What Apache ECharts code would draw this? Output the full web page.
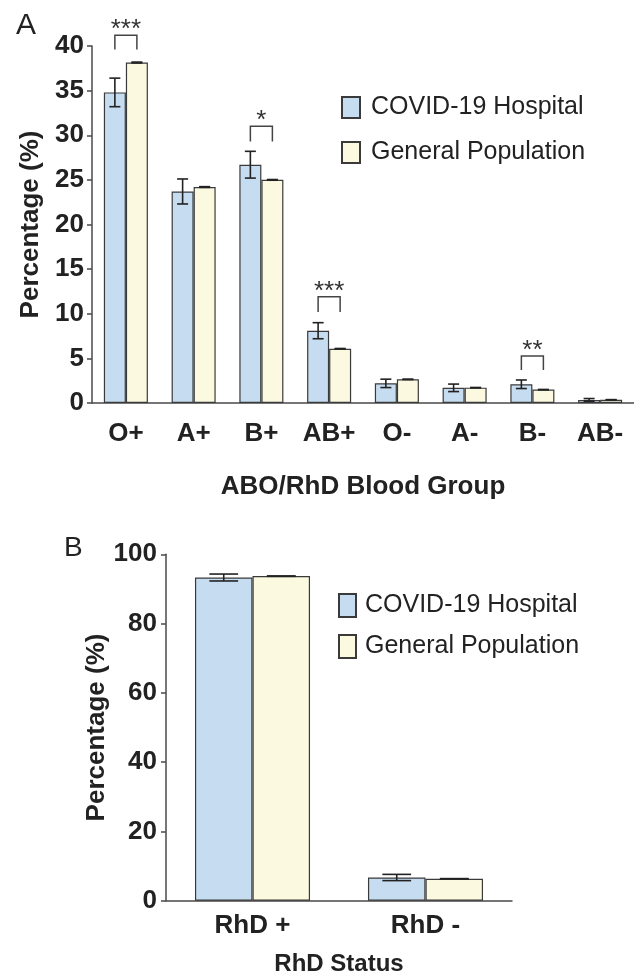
<!DOCTYPE html>
<html>
<head>
<meta charset="utf-8">
<script src="https://cdn.jsdelivr.net/npm/echarts@6/dist/echarts.min.js"></script>
<style>
html,body{margin:0;padding:0;background:#fff;}
#chart{width:634px;height:975px;}
</style>
</head>
<body>
<div id="chart"></div>
<script>
// ---- Panel A data ----
const categoriesA = ['O+', 'A+', 'B+', 'AB+', 'O-', 'A-', 'B-', 'AB-'];
const hospitalA = [34.8, 23.7, 26.7, 8.1, 2.2, 1.7, 2.1, 0.35];
const hospitalErrA = [1.6, 1.4, 1.5, 0.9, 0.47, 0.42, 0.48, 0.15];
const generalA = [38.15, 24.2, 25.0, 6.08, 2.65, 1.72, 1.5, 0.37];
const generalErrA = [0.05, 0.04, 0.04, 0.03, 0.02, 0.02, 0.02, 0.01];
const sigIndexA = [0, 2, 3, 6];
const sigLabelA = ['***', '*', '***', '**'];
const sigTopA = [41.2, 31.0, 11.9, 5.26];
const sigBottomA = [39.6, 29.3, 10.2, 3.7];

// ---- Panel B data ----
const categoriesB = ['RhD +', 'RhD -'];
const hospitalB = [93.3, 6.7];
const hospitalErrB = [1.0, 0.9];
const generalB = [93.7, 6.35];
const generalErrB = [0.05, 0.03];

const seriesNames = ['COVID-19 Hospital', 'General Population'];
const FONT = '"Liberation Sans", Arial, Helvetica, sans-serif';
const BLUE = '#c6ddf1';
const YELLOW = '#fbf9e0';
const EDGE = '#3a3a3a';
const INK = '#222';
const GAP_A = 0.35;
const GAP_B = 0.335;

function errRender(side, gap) {
  return function (params, api) {
    const i = api.value(0), v = api.value(1), e = api.value(2);
    const band = api.size([1, 0])[0];
    const bw = band * (1 - gap) / 2;
    const cx = api.coord([i, v])[0] + side * bw / 2;
    const yHi = api.coord([i, v + e])[1];
    const yLo = api.coord([i, v - e])[1];
    const cap = bw / 4;
    const st = { stroke: INK, lineWidth: 1.6 };
    return {
      type: 'group',
      children: [
        { type: 'line', shape: { x1: cx, y1: yHi, x2: cx, y2: yLo }, style: st },
        { type: 'line', shape: { x1: cx - cap, y1: yHi, x2: cx + cap, y2: yHi }, style: st },
        { type: 'line', shape: { x1: cx - cap, y1: yLo, x2: cx + cap, y2: yLo }, style: st }
      ]
    };
  };
}

function sigRender(gap) {
  return function (params, api) {
    const i = api.value(0), top = api.value(1), bot = api.value(2);
    const band = api.size([1, 0])[0];
    const bw = band * (1 - gap) / 2;
    const c = api.coord([i, top]);
    const yb = api.coord([i, bot])[1];
    const x1 = c[0] - bw / 2, x2 = c[0] + bw / 2;
    const lab = sigLabelA[params.dataIndex];
    return {
      type: 'group',
      children: [
        { type: 'polyline', shape: { points: [[x1, yb], [x1, c[1]], [x2, c[1]], [x2, yb]] },
          style: { stroke: '#444', lineWidth: 1.5, fill: null } },
        { type: 'text', style: { text: lab, x: c[0], y: c[1] + 8, align: 'center', verticalAlign: 'bottom',
          fontSize: 26, fontFamily: FONT, fill: '#333' } }
      ]
    };
  };
}

const axisLineStyle = { color: '#4a4a4a', width: 1.5 };

const option = {
  animation: false,
  backgroundColor: '#fff',
  textStyle: { fontFamily: FONT },
  graphic: [
    { type: 'text', style: { text: 'A', x: 16, y: 26, verticalAlign: 'middle', fontSize: 30, fontFamily: FONT, fill: INK } },
    { type: 'text', style: { text: 'B', x: 64, y: 548, verticalAlign: 'middle', fontSize: 28, fontFamily: FONT, fill: INK } }
  ],
  legend: [
    { data: seriesNames, orient: 'vertical', left: 341, top: 95, padding: 0, icon: 'rect',
      itemWidth: 18, itemHeight: 21, itemGap: 20, selectedMode: false,
      textStyle: { fontSize: 25, color: INK, fontFamily: FONT, lineHeight: 21, padding: [0, 0, 0, 6] } },
    { data: seriesNames, orient: 'vertical', left: 338, top: 593, padding: 0, icon: 'rect',
      itemWidth: 17, itemHeight: 23, itemGap: 16, selectedMode: false,
      textStyle: { fontSize: 25, color: INK, fontFamily: FONT, lineHeight: 23, padding: [0, 0, 0, 4] } }
  ],
  grid: [
    { left: 92, right: 0, top: 46, height: 357, outerBoundsMode: 'none', containLabel: false },
    { left: 166, width: 346, top: 554.3, height: 346.4, outerBoundsMode: 'none', containLabel: false }
  ],
  xAxis: [
    { type: 'category', gridIndex: 0, data: categoriesA,
      axisLine: { lineStyle: axisLineStyle }, axisTick: { show: false },
      axisLabel: { interval: 0, fontSize: 26, fontWeight: 'bold', color: INK, margin: 18, fontFamily: FONT },
      name: 'ABO/RhD Blood Group', nameLocation: 'middle', nameGap: 71, nameMoveOverlap: false,
      nameTextStyle: { fontSize: 26, fontWeight: 'bold', color: INK, fontFamily: FONT } },
    { type: 'category', gridIndex: 1, data: categoriesB,
      axisLine: { lineStyle: axisLineStyle }, axisTick: { show: false },
      axisLabel: { interval: 0, fontSize: 26, fontWeight: 'bold', color: INK, margin: 12, fontFamily: FONT },
      name: 'RhD Status', nameLocation: 'middle', nameGap: 52, nameMoveOverlap: false,
      nameTextStyle: { fontSize: 24, fontWeight: 'bold', color: INK, fontFamily: FONT } }
  ],
  yAxis: [
    { type: 'value', gridIndex: 0, min: 0, max: 40, interval: 5,
      axisLine: { show: true, lineStyle: axisLineStyle },
      axisTick: { show: true, length: 5, lineStyle: axisLineStyle },
      splitLine: { show: false },
      axisLabel: { fontSize: 26, fontWeight: 'bold', color: INK, margin: 8, fontFamily: FONT },
      name: 'Percentage (%)', nameLocation: 'middle', nameGap: 48, nameMoveOverlap: false,
      nameTextStyle: { fontSize: 26, fontWeight: 'bold', color: INK, fontFamily: FONT } },
    { type: 'value', gridIndex: 1, min: 0, max: 100, interval: 20,
      axisLine: { show: true, lineStyle: axisLineStyle },
      axisTick: { show: true, length: 5, lineStyle: axisLineStyle },
      splitLine: { show: false },
      axisLabel: { fontSize: 26, fontWeight: 'bold', color: INK, margin: 9, fontFamily: FONT },
      name: 'Percentage (%)', nameLocation: 'middle', nameGap: 56, nameMoveOverlap: false,
      nameTextStyle: { fontSize: 26, fontWeight: 'bold', color: INK, fontFamily: FONT } }
  ],
  series: [
    { type: 'bar', name: seriesNames[0], xAxisIndex: 0, yAxisIndex: 0, data: hospitalA,
      barGap: '0%', barCategoryGap: (GAP_A * 100) + '%',
      itemStyle: { color: BLUE, borderColor: EDGE, borderWidth: 1.2 } },
    { type: 'bar', name: seriesNames[1], xAxisIndex: 0, yAxisIndex: 0, data: generalA,
      barGap: '0%', barCategoryGap: (GAP_A * 100) + '%',
      itemStyle: { color: YELLOW, borderColor: EDGE, borderWidth: 1.2 } },
    { type: 'custom', xAxisIndex: 0, yAxisIndex: 0, z: 10, renderItem: errRender(-1, GAP_A),
      data: hospitalA.map((v, i) => [i, v, hospitalErrA[i]]) },
    { type: 'custom', xAxisIndex: 0, yAxisIndex: 0, z: 10, renderItem: errRender(1, GAP_A),
      data: generalA.map((v, i) => [i, v, generalErrA[i]]) },
    { type: 'custom', xAxisIndex: 0, yAxisIndex: 0, z: 10, renderItem: sigRender(GAP_A),
      data: sigIndexA.map((c, k) => [c, sigTopA[k], sigBottomA[k]]) },

    { type: 'bar', name: seriesNames[0], xAxisIndex: 1, yAxisIndex: 1, data: hospitalB,
      barGap: '0%', barCategoryGap: (GAP_B * 100) + '%',
      itemStyle: { color: BLUE, borderColor: EDGE, borderWidth: 1.2 } },
    { type: 'bar', name: seriesNames[1], xAxisIndex: 1, yAxisIndex: 1, data: generalB,
      barGap: '0%', barCategoryGap: (GAP_B * 100) + '%',
      itemStyle: { color: YELLOW, borderColor: EDGE, borderWidth: 1.2 } },
    { type: 'custom', xAxisIndex: 1, yAxisIndex: 1, z: 10, renderItem: errRender(-1, GAP_B),
      data: hospitalB.map((v, i) => [i, v, hospitalErrB[i]]) },
    { type: 'custom', xAxisIndex: 1, yAxisIndex: 1, z: 10, renderItem: errRender(1, GAP_B),
      data: generalB.map((v, i) => [i, v, generalErrB[i]]) }
  ]
};

const chart = echarts.init(document.getElementById('chart'), null, { renderer: 'canvas' });
chart.setOption(option);
</script>
</body>
</html>
